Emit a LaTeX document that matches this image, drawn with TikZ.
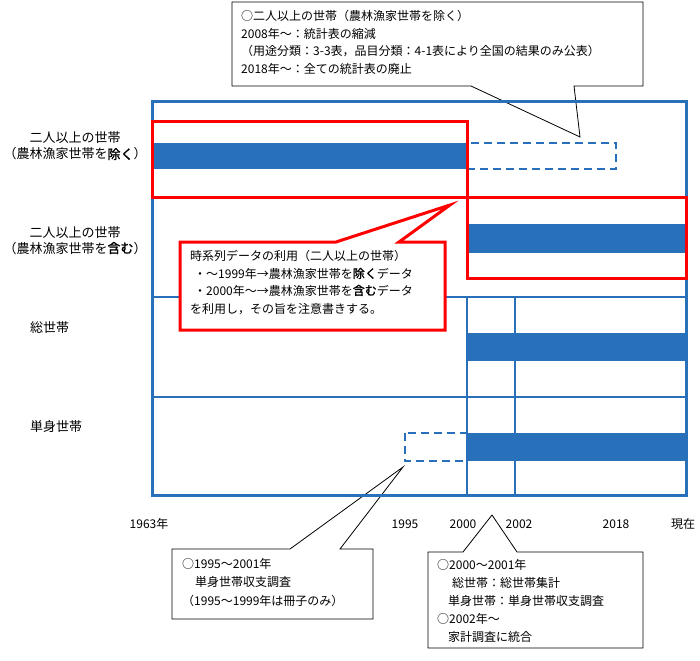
\documentclass[tikz,border=0pt]{standalone}
\usepackage{fontspec}
\setmainfont{Noto Sans CJK JP}
\newfontfamily\jpboldfont[FakeBold=1.5]{Noto Sans CJK JP}
\newcommand{\bd}[1]{{\jpboldfont #1}}
\definecolor{gblue}{RGB}{40,112,186}
\begin{document}
\begin{tikzpicture}[x=1pt,y=-1pt,
  txt/.style={anchor=base west,inner sep=0pt,font=\fontsize{12}{14}\selectfont},
  lbl/.style={anchor=base,inner sep=0pt,font=\fontsize{13}{15}\selectfont},
  lblw/.style={anchor=base west,inner sep=0pt,font=\fontsize{13}{15}\selectfont},
  axl/.style={anchor=base,inner sep=0pt,font=\fontsize{12}{14}\selectfont},
  call/.style={draw=black,line width=0.8pt,fill=white,line join=miter},
  rcall/.style={draw=red,line width=3pt,fill=white,line join=miter},
  frm/.style={draw=gblue,line width=3pt},
  grd/.style={draw=gblue,line width=2pt},
  bar/.style={fill=gblue},
  dbar/.style={draw=gblue,line width=2pt,dash pattern=on 8pt off 5pt},
  hl/.style={draw=red,line width=3pt},
]
\useasboundingbox (0,0) rectangle (700,660);

% ---- callout pointer tips
\coordinate (tipTop) at (580,137);
\coordinate (tipBL) at (403,467);
\coordinate (tipBR) at (492,515);
\coordinate (tipRed) at (450,205);

% ---- black callouts (under the chart)
\draw[call] (232,2) -- (643,2) -- (643,86) -- (574,86) -- (tipTop) -- (471,86) -- (232,86) -- cycle;
\draw[call] (172,549) -- (290,549) -- (tipBL) -- (340,549) -- (373,549) -- (373,619) -- (172,619) -- cycle;
\draw[call] (428,552) -- (463,552) -- (tipBR) -- (517,552) -- (643,552) -- (643,648) -- (428,648) -- cycle;

% ---- chart grid
\draw[grd] (152,198) -- (686,198);
\draw[grd] (152,297) -- (686,297);
\draw[grd] (152,397) -- (686,397);
\draw[grd] (467,297) -- (467,495);
\draw[grd] (515,297) -- (515,495);
\draw[frm] (152,102) rectangle (686,495);

% ---- bars
\fill[bar] (152,143) rectangle (467,169);
\draw[dbar] (467,143) rectangle (616,169);
\fill[bar] (467,224) rectangle (686,253);
\fill[bar] (467,333) rectangle (686,361);
\draw[dbar] (405,433) rectangle (467,461);
\fill[bar] (467,433) rectangle (686,461);

% ---- red highlight boxes
\draw[hl] (152,122) rectangle (467,198);
\draw[hl] (467,198) rectangle (686,278);

% ---- red callout
\draw[rcall] (180,242) -- (336,242) -- (tipRed) -- (399,242) -- (445,242) -- (445,330) -- (180,330) -- cycle;

% ---- left labels
\node[lbl] (l1a) at (75,143) {二人以上の世帯};
\node[lbl] (l1b) at (75,159) {（農林漁家世帯を\bd{除く}）};
\node[lbl] (l2a) at (75,237) {二人以上の世帯};
\node[lbl] (l2b) at (75,253) {（農林漁家世帯を\bd{含む}）};
\node[lblw] (l3) at (30,332) {総世帯};
\node[lblw] (l4) at (30,431) {単身世帯};

% ---- axis labels
\node[axl] (y1963) at (149,528) {1963年};
\node[axl] (y1995) at (405,528) {1995};
\node[axl] (y2000) at (463,528) {2000};
\node[axl] (y2002) at (519,528) {2002};
\node[axl] (y2018) at (616,528) {2018};
\node[axl] (ynow) at (683,528) {現在};

% ---- top callout text
\node[txt] (t1) at (241,20.5) {○二人以上の世帯（農林漁家世帯を除く）};
\node[txt] (t2) at (241,38.2) {2008年～：統計表の縮減};
\node[txt] (t3) at (241,55.9) {（用途分類：3-3表，品目分類：4-1表により全国の結果のみ公表）};
\node[txt] (t4) at (241,73.6) {2018年～：全ての統計表の廃止};

% ---- red callout text
\node[txt] (r1) at (190,260) {時系列データの利用（二人以上の世帯）};
\node[txt] (r2) at (194,278) {・～1999年→農林漁家世帯を\bd{除く}データ};
\node[txt] (r3) at (194,295) {・2000年～→農林漁家世帯を\bd{含む}データ};
\node[txt] (r4) at (190,313) {を利用し，その旨を注意書きする。};

% ---- bottom-left callout text
\node[txt] (b1) at (182,568) {○1995～2001年};
\node[txt] (b2) at (195,586) {単身世帯収支調査};
\node[txt] (b3) at (182,605) {（1995～1999年は冊子のみ）};

% ---- bottom-right callout text
\node[txt] (c1) at (437,569) {○2000～2001年};
\node[txt] (c2) at (452,587) {総世帯：総世帯集計};
\node[txt] (c3) at (448,605) {単身世帯：単身世帯収支調査};
\node[txt] (c4) at (437,623) {○2002年～};
\node[txt] (c5) at (448,641) {家計調査に統合};
\end{tikzpicture}
\end{document}
